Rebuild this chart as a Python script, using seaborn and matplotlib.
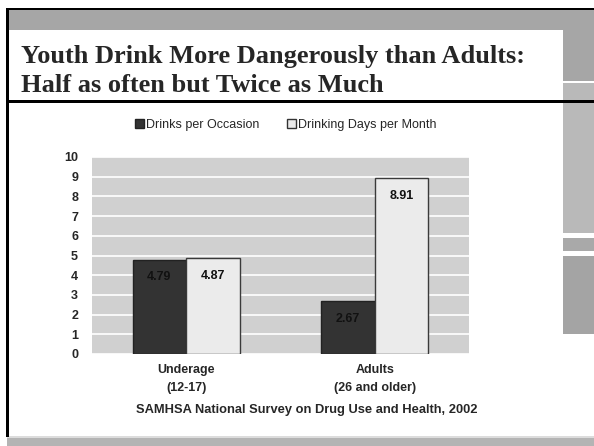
import matplotlib
matplotlib.use("Agg")
import matplotlib.pyplot as plt
import matplotlib.patches as mpatches
import pandas as pd
import seaborn as sns

# data
groups = ["Underage\n(12-17)", "Adults\n(26 and older)"]
series = ["Drinks per Occasion", "Drinking Days per Month"]
drinks_per_occasion = [4.79, 2.67]
drinking_days = [4.87, 8.91]
y_ticks = list(range(0, 11))

title_lines = ["Youth Drink More Dangerously than Adults:", "Half as often but Twice as Much"]
source = "SAMHSA National Survey on Drug Use and Health, 2002"

df = pd.DataFrame({
    "group": groups * 2,
    "series": [series[0]] * 2 + [series[1]] * 2,
    "value": drinks_per_occasion + drinking_days,
})

sns.set_style("white")
plt.rcParams["font.family"] = ["Liberation Sans", "DejaVu Sans"]

W, H = 594, 446
fig = plt.figure(figsize=(W / 100, H / 100), dpi=100)


def fx(x):
    return x / W


def fy(y):
    return 1 - y / H


def box(x0, y0, x1, y1, color, z=0):
    # rectangle in pixel coords, origin top-left
    fig.add_artist(mpatches.Rectangle((fx(x0), fy(y1)), fx(x1) - fx(x0), fy(y0) - fy(y1),
                                      transform=fig.transFigure, facecolor=color,
                                      edgecolor="none", zorder=z))


# slide decoration
box(7, 9, 594, 30, "#a6a6a6")
box(563, 30, 594, 81, "#a6a6a6")
box(563, 83, 594, 233, "#b9b9b9")
box(563, 238, 594, 251, "#a9a9a9")
box(563, 256, 594, 334, "#a4a4a4")
fig.add_artist(mpatches.FancyBboxPatch((fx(7), fy(101)), fx(563) - fx(7), fy(30) - fy(101),
                                       boxstyle="round,pad=0,rounding_size=0.015",
                                       transform=fig.transFigure, facecolor="white",
                                       edgecolor="none", zorder=1))
box(7, 436, 594, 438, "#dcdcdc", z=2)
box(7, 438, 594, 446, "#b4b4b4", z=2)
box(7, 8, 594, 10, "black", z=3)
box(7, 100, 594, 103, "black", z=3)
box(6, 8, 9, 437, "black", z=3)

for ty, line in zip([57, 85], title_lines):
    fig.text(fx(21), fy(ty), line, ha="left", va="center", fontsize=19, fontweight="bold",
             family=["Liberation Serif", "DejaVu Serif"], zorder=4)

# chart
ax = fig.add_axes([fx(92), fy(354), fx(469) - fx(92), fy(157) - fy(354)])
ax.set_facecolor("#d0d0d0")
sns.barplot(data=df, x="group", y="value", hue="series", order=groups, hue_order=series,
            palette=["#333333", "#ebebeb"], saturation=1, width=0.57, gap=0,
            edgecolor="#222222", linewidth=1, legend=False, ax=ax, zorder=3)
for bar in ax.containers[1]:
    bar.set_edgecolor("#3a3a3a")

for cont in ax.containers:
    ax.bar_label(cont, fmt="%.2f", padding=-17, fontsize=9, fontweight="bold", color="#111111")

ax.set_ylim(0, 10)
ax.set_yticks(y_ticks)
ax.grid(axis="y", color="white", linewidth=1.2, zorder=0)
ax.set_axisbelow(True)
for s in ax.spines.values():
    s.set_visible(False)
ax.tick_params(axis="both", length=0, labelsize=9)
ax.tick_params(axis="y", pad=10)
ax.tick_params(axis="x", pad=7)
for lab in ax.get_yticklabels():
    lab.set_fontweight("bold")
for lab in ax.get_xticklabels():
    lab.set_fontweight("bold")
    lab.set_linespacing(1.75)
ax.set_xlabel("")
ax.set_ylabel("")

handles = [mpatches.Patch(facecolor="#333333", edgecolor="#222222"),
           mpatches.Patch(facecolor="#ebebeb", edgecolor="#333333")]
fig.legend(handles=handles, labels=series, loc="center", bbox_to_anchor=(fx(286), fy(125)),
           ncol=2, frameon=False, fontsize=9, handlelength=0.7, handleheight=0.7,
           handletextpad=0.2, columnspacing=2.2)

fig.text(fx(307), fy(410), source, ha="center", va="center", fontsize=9.3, fontweight="bold")

fig.savefig("out.png", dpi=100)
